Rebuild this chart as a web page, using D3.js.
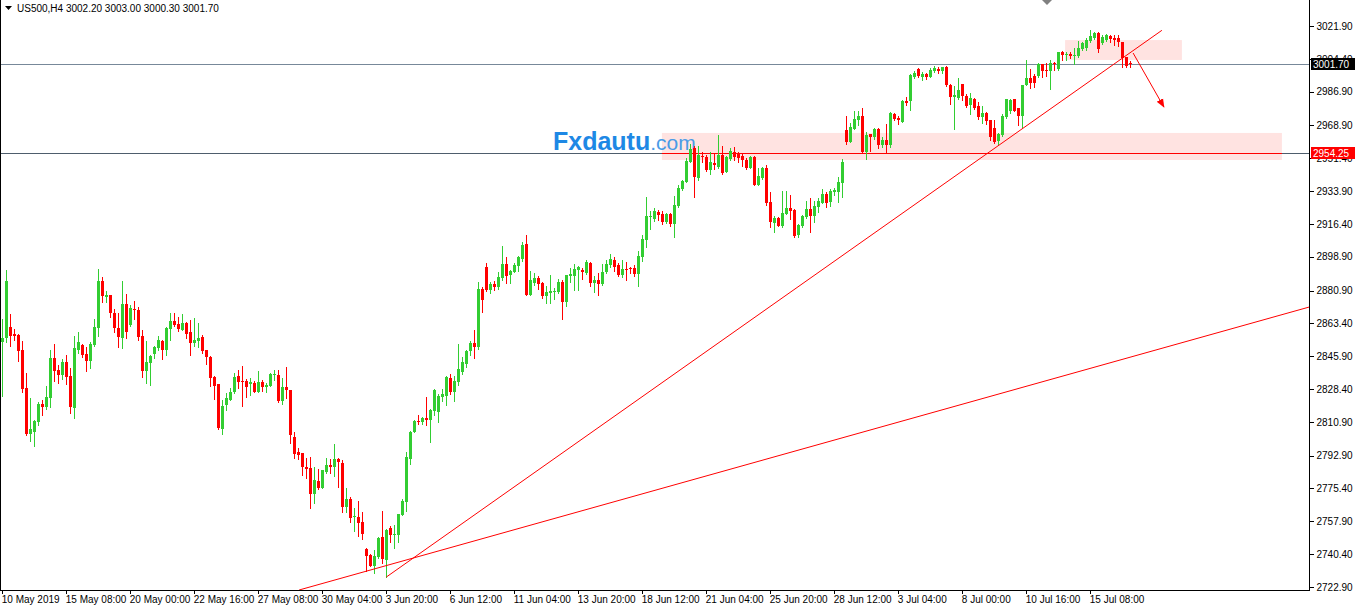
<!DOCTYPE html>
<html>
<head>
<meta charset="utf-8">
<script src="https://cdn.jsdelivr.net/npm/d3@7"></script>
<style>
  body { margin: 0; background: #fff; }
  text { font-family: "Liberation Sans", Arial, sans-serif; }
</style>
</head>
<body>
<svg id="chart"></svg>
<script>
var width = 1355;
var height = 606;
var plotRight = 1309;
var plotBottom = 590;

// H4 candles, [open, high, low, close]
var bars = [
  [2853.4, 2865.7, 2824.7, 2855.6], [2855.6, 2891.8, 2853.4, 2886.0], [2861.5, 2868.4, 2851.3, 2856.7], [2857.8, 2860.4, 2854.5, 2856.7],
  [2857.2, 2857.8, 2843.4, 2848.7], [2849.2, 2854.0, 2826.8, 2828.4], [2828.9, 2836.9, 2803.9, 2804.5], [2804.5, 2823.6, 2800.7, 2807.1],
  [2805.5, 2811.9, 2798.0, 2811.4], [2810.8, 2821.5, 2809.2, 2820.4], [2820.4, 2822.6, 2814.5, 2818.8], [2818.8, 2830.0, 2817.7, 2824.2],
  [2823.6, 2849.2, 2818.8, 2845.0], [2845.0, 2852.4, 2832.7, 2838.0], [2838.5, 2841.2, 2831.6, 2835.9], [2835.9, 2844.4, 2833.7, 2842.8],
  [2842.8, 2846.5, 2831.1, 2834.8], [2835.4, 2839.6, 2815.6, 2818.8], [2818.3, 2856.7, 2813.0, 2850.3], [2849.2, 2858.8, 2847.6, 2853.4],
  [2851.8, 2852.4, 2845.5, 2846.5], [2847.1, 2850.8, 2838.0, 2843.4], [2843.4, 2853.4, 2839.6, 2852.4], [2851.8, 2865.7, 2851.3, 2861.5],
  [2860.9, 2892.4, 2856.7, 2886.0], [2886.0, 2888.1, 2874.8, 2878.0], [2877.5, 2880.7, 2874.8, 2878.5], [2878.5, 2878.5, 2866.8, 2868.9],
  [2868.9, 2871.1, 2858.8, 2860.9], [2860.9, 2868.9, 2850.8, 2856.1], [2855.6, 2886.0, 2850.3, 2873.7], [2873.7, 2879.1, 2855.6, 2858.8],
  [2862.5, 2873.2, 2862.0, 2871.6], [2871.1, 2875.3, 2865.7, 2870.5], [2870.5, 2872.1, 2854.5, 2856.1], [2856.7, 2859.9, 2834.8, 2838.0],
  [2838.0, 2854.0, 2831.6, 2842.8], [2842.3, 2846.5, 2830.5, 2846.0], [2847.1, 2851.3, 2845.0, 2850.8], [2850.3, 2856.7, 2849.2, 2854.5],
  [2854.0, 2854.5, 2844.4, 2849.2], [2849.2, 2861.5, 2846.5, 2860.9], [2860.4, 2868.9, 2854.5, 2864.7], [2864.7, 2868.9, 2862.0, 2862.5],
  [2863.1, 2866.8, 2859.3, 2860.4], [2859.9, 2868.4, 2859.9, 2863.6], [2863.6, 2864.1, 2855.6, 2857.8], [2858.8, 2865.2, 2846.5, 2852.9],
  [2852.9, 2866.3, 2851.3, 2854.5], [2854.0, 2863.6, 2850.8, 2855.6], [2856.1, 2857.2, 2847.6, 2848.7], [2849.2, 2849.2, 2841.7, 2845.5],
  [2845.5, 2846.0, 2830.0, 2834.3], [2834.8, 2835.4, 2823.1, 2830.0], [2831.1, 2831.1, 2807.1, 2807.6], [2807.1, 2822.6, 2804.5, 2819.3],
  [2819.9, 2826.3, 2817.2, 2823.6], [2822.6, 2828.9, 2822.6, 2826.8], [2826.8, 2836.9, 2826.3, 2834.8], [2835.4, 2838.5, 2828.9, 2832.1],
  [2832.7, 2840.7, 2819.3, 2832.1], [2832.7, 2833.7, 2824.2, 2829.5], [2831.1, 2834.3, 2825.2, 2832.1], [2831.6, 2832.7, 2826.8, 2826.8],
  [2826.8, 2838.0, 2826.8, 2832.1], [2832.1, 2833.2, 2827.3, 2829.5], [2829.5, 2831.6, 2826.8, 2830.5], [2830.0, 2836.9, 2830.0, 2836.4],
  [2835.9, 2838.5, 2833.2, 2836.4], [2835.9, 2838.5, 2821.5, 2822.0], [2822.0, 2834.3, 2820.4, 2829.5], [2829.5, 2840.1, 2823.6, 2827.9],
  [2827.9, 2827.9, 2799.6, 2803.9], [2802.8, 2805.5, 2791.6, 2793.8], [2794.8, 2797.0, 2791.1, 2793.2], [2794.3, 2794.3, 2782.6, 2786.8],
  [2786.8, 2791.6, 2780.9, 2785.8], [2786.3, 2792.2, 2765.0, 2772.5], [2772.5, 2786.8, 2767.7, 2779.9], [2779.4, 2785.8, 2775.1, 2775.6],
  [2775.6, 2785.2, 2775.6, 2785.2], [2784.2, 2791.6, 2783.7, 2787.9], [2787.9, 2791.1, 2783.7, 2786.8], [2786.8, 2799.1, 2782.0, 2791.1],
  [2791.1, 2791.6, 2776.2, 2789.5], [2789.0, 2790.6, 2762.9, 2765.5], [2765.5, 2775.6, 2762.9, 2769.8], [2769.8, 2770.9, 2757.5, 2759.7],
  [2760.2, 2765.0, 2752.7, 2760.7], [2760.2, 2768.7, 2750.1, 2757.0], [2757.5, 2762.9, 2748.5, 2751.1], [2743.1, 2743.7, 2731.4, 2739.4],
  [2740.0, 2740.5, 2734.1, 2734.1], [2734.1, 2742.6, 2730.3, 2739.4], [2738.9, 2749.5, 2738.4, 2749.0], [2749.5, 2763.4, 2735.7, 2737.8],
  [2737.3, 2753.8, 2728.2, 2753.3], [2754.3, 2755.4, 2746.9, 2750.6], [2750.6, 2755.9, 2743.7, 2751.1], [2750.6, 2761.8, 2746.9, 2761.8],
  [2761.3, 2769.8, 2761.3, 2768.7], [2768.2, 2794.8, 2763.4, 2792.2], [2791.1, 2806.0, 2788.4, 2805.5], [2805.5, 2811.9, 2805.5, 2811.4],
  [2811.4, 2814.5, 2809.8, 2810.8], [2810.8, 2813.5, 2809.8, 2813.0], [2813.0, 2824.2, 2809.2, 2811.9], [2811.9, 2817.7, 2800.2, 2817.2],
  [2816.7, 2828.4, 2814.5, 2827.9], [2816.2, 2825.8, 2810.8, 2824.7], [2824.2, 2828.4, 2822.0, 2825.8], [2824.7, 2835.4, 2819.9, 2834.8],
  [2834.3, 2836.4, 2825.8, 2826.8], [2826.8, 2835.4, 2822.0, 2832.7], [2832.1, 2852.4, 2830.5, 2839.1], [2837.5, 2845.5, 2836.4, 2842.8],
  [2841.7, 2849.2, 2840.1, 2848.7], [2848.7, 2854.0, 2846.5, 2852.9], [2852.9, 2859.9, 2845.0, 2850.8], [2850.8, 2885.5, 2849.7, 2881.7],
  [2881.7, 2882.8, 2869.5, 2875.9], [2893.4, 2895.6, 2880.7, 2881.2], [2881.2, 2885.5, 2879.6, 2884.4], [2884.4, 2886.0, 2881.2, 2882.8],
  [2882.8, 2890.8, 2881.7, 2888.1], [2887.6, 2904.6, 2886.5, 2895.0], [2895.0, 2898.8, 2884.9, 2888.6], [2889.2, 2891.8, 2884.9, 2891.3],
  [2890.8, 2895.6, 2890.8, 2894.5], [2894.0, 2899.3, 2891.3, 2898.8], [2897.7, 2906.8, 2896.6, 2905.2], [2905.7, 2910.5, 2878.5, 2878.5],
  [2878.5, 2891.3, 2878.5, 2886.5], [2884.9, 2890.2, 2883.9, 2887.6], [2887.6, 2888.6, 2881.7, 2884.4], [2884.9, 2885.5, 2876.9, 2878.0],
  [2878.0, 2883.3, 2874.2, 2880.2], [2879.6, 2889.2, 2874.2, 2880.7], [2880.2, 2882.3, 2876.4, 2880.7], [2880.2, 2887.0, 2879.6, 2885.5],
  [2885.5, 2886.5, 2865.7, 2874.8], [2874.8, 2889.2, 2872.7, 2889.2], [2888.6, 2892.9, 2885.5, 2889.7], [2888.6, 2895.0, 2881.2, 2892.4],
  [2891.8, 2894.0, 2881.2, 2893.4], [2891.8, 2892.9, 2887.0, 2890.8], [2890.2, 2897.2, 2889.7, 2896.1], [2895.6, 2896.1, 2883.3, 2884.9],
  [2884.9, 2888.6, 2880.2, 2886.5], [2886.5, 2890.2, 2878.5, 2884.4], [2884.4, 2895.0, 2883.9, 2890.8], [2890.8, 2897.2, 2890.2, 2895.0],
  [2894.5, 2900.4, 2893.4, 2897.7], [2897.2, 2898.8, 2891.3, 2893.4], [2894.5, 2895.6, 2888.6, 2889.2], [2889.2, 2897.2, 2888.1, 2892.4],
  [2892.4, 2896.1, 2886.5, 2891.8], [2892.9, 2893.4, 2890.2, 2892.4], [2892.9, 2894.5, 2888.6, 2889.7], [2889.7, 2902.0, 2883.3, 2899.3],
  [2898.8, 2910.5, 2896.6, 2908.4], [2907.8, 2930.8, 2904.1, 2920.6], [2920.1, 2923.3, 2913.7, 2920.6], [2919.0, 2924.9, 2918.0, 2923.3],
  [2922.8, 2923.8, 2918.5, 2921.2], [2921.7, 2923.3, 2916.4, 2917.4], [2917.4, 2922.2, 2916.9, 2921.7], [2921.7, 2922.2, 2915.3, 2916.4],
  [2916.4, 2931.3, 2909.4, 2926.5], [2926.0, 2937.2, 2925.4, 2935.6], [2935.0, 2939.8, 2934.5, 2939.3], [2938.8, 2951.5, 2938.8, 2949.9],
  [2949.4, 2959.0, 2949.4, 2956.3], [2956.9, 2957.9, 2930.8, 2941.4], [2940.9, 2957.9, 2939.8, 2953.1], [2952.6, 2954.7, 2949.4, 2952.1],
  [2952.1, 2953.1, 2944.6, 2945.1], [2945.1, 2954.7, 2943.0, 2949.4], [2948.9, 2954.2, 2945.7, 2947.8], [2946.7, 2963.8, 2946.2, 2953.1],
  [2953.1, 2957.9, 2943.0, 2943.5], [2944.1, 2952.6, 2944.1, 2952.1], [2951.0, 2956.9, 2950.5, 2955.3], [2954.7, 2957.4, 2950.5, 2952.1],
  [2953.7, 2954.7, 2949.4, 2951.5], [2952.6, 2954.2, 2947.3, 2950.5], [2950.5, 2951.5, 2945.7, 2946.2], [2946.2, 2952.6, 2946.2, 2952.1],
  [2952.1, 2952.6, 2937.2, 2937.2], [2937.2, 2946.2, 2937.2, 2942.0], [2940.9, 2946.7, 2940.4, 2946.2], [2946.2, 2947.8, 2926.5, 2927.6],
  [2928.1, 2933.4, 2914.8, 2917.4], [2916.9, 2920.6, 2912.1, 2919.6], [2919.6, 2920.1, 2915.3, 2915.3], [2915.3, 2933.9, 2914.8, 2922.2],
  [2921.7, 2933.9, 2921.7, 2924.9], [2924.9, 2931.8, 2919.0, 2923.3], [2923.8, 2924.4, 2909.4, 2910.0], [2910.5, 2916.4, 2909.4, 2915.8],
  [2915.3, 2921.2, 2914.8, 2920.6], [2920.1, 2928.6, 2919.6, 2924.4], [2924.4, 2930.2, 2912.1, 2920.6], [2920.6, 2928.6, 2917.4, 2926.0],
  [2925.4, 2930.2, 2922.8, 2928.6], [2927.6, 2935.0, 2927.6, 2932.4], [2932.4, 2933.4, 2925.4, 2927.6], [2928.1, 2935.0, 2926.0, 2933.9],
  [2933.4, 2935.6, 2931.8, 2934.5], [2933.4, 2941.4, 2928.1, 2938.8], [2938.2, 2951.0, 2930.8, 2949.4], [2966.5, 2973.9, 2959.0, 2960.1],
  [2960.1, 2970.2, 2960.1, 2968.1], [2967.0, 2976.6, 2967.0, 2972.3], [2971.8, 2976.6, 2969.1, 2973.9], [2973.9, 2978.2, 2954.7, 2954.7],
  [2954.7, 2965.4, 2951.0, 2963.8], [2964.3, 2964.3, 2955.3, 2962.7], [2962.7, 2967.5, 2961.7, 2967.0], [2967.0, 2967.5, 2956.9, 2958.5],
  [2958.5, 2962.7, 2957.4, 2961.1], [2961.1, 2969.7, 2954.7, 2958.5], [2958.5, 2976.1, 2957.4, 2975.5], [2975.0, 2975.5, 2971.8, 2972.3],
  [2972.9, 2973.9, 2969.7, 2971.8], [2970.7, 2982.5, 2970.7, 2981.9], [2981.9, 2984.1, 2979.8, 2980.9], [2981.9, 2996.3, 2977.1, 2995.8],
  [2994.7, 2997.9, 2994.2, 2996.8], [2999.0, 2999.5, 2994.7, 2995.2], [2994.7, 2997.4, 2993.1, 2996.3], [2996.3, 2996.8, 2993.6, 2994.7],
  [2994.7, 2999.5, 2994.7, 2998.5], [2997.9, 3000.6, 2997.4, 2999.5], [2999.0, 3000.1, 2996.8, 2997.9], [2997.9, 3000.1, 2996.8, 3000.1],
  [3000.1, 3000.6, 2989.9, 2990.5], [2990.5, 2991.0, 2980.3, 2984.1], [2984.1, 2989.9, 2967.0, 2985.1], [2983.5, 2994.2, 2983.0, 2987.8],
  [2991.0, 2991.0, 2982.5, 2984.6], [2984.6, 2985.7, 2978.7, 2979.3], [2979.8, 2986.2, 2975.0, 2983.5], [2983.0, 2983.5, 2977.7, 2978.2],
  [2979.3, 2981.4, 2972.3, 2973.4], [2973.4, 2979.3, 2970.2, 2975.5], [2975.5, 2976.1, 2969.7, 2971.3], [2971.8, 2971.8, 2961.1, 2962.7],
  [2967.5, 2971.8, 2959.5, 2960.1], [2960.6, 2964.9, 2959.0, 2964.3], [2963.8, 2975.0, 2963.3, 2973.9], [2973.4, 2983.0, 2972.9, 2983.0],
  [2976.6, 2983.0, 2975.5, 2982.5], [2983.0, 2983.0, 2976.6, 2976.6], [2978.2, 2978.2, 2969.1, 2973.9], [2973.9, 2990.5, 2968.1, 2990.5],
  [2990.5, 3003.8, 2990.5, 2994.2], [2994.2, 2999.0, 2988.9, 2991.5], [2995.2, 2996.3, 2989.4, 2991.5], [2995.2, 3002.2, 2994.7, 3001.7],
  [3001.7, 3001.7, 2994.7, 2997.9], [2998.5, 3002.2, 2995.2, 2997.9], [2997.9, 3003.8, 2988.3, 3002.2], [3002.2, 3002.7, 2998.5, 3001.7],
  [2999.0, 3008.0, 2998.5, 3008.0], [3008.0, 3008.6, 3003.8, 3006.4], [3006.4, 3008.0, 3003.8, 3007.0], [3007.0, 3008.0, 3004.8, 3005.9],
  [3005.9, 3010.2, 3001.7, 3006.4], [3005.9, 3013.9, 3005.4, 3010.2], [3009.6, 3013.4, 3009.1, 3012.8], [3010.2, 3015.5, 3009.1, 3014.4],
  [3013.9, 3019.8, 3013.4, 3016.6], [3015.5, 3018.7, 3015.0, 3018.2], [3018.2, 3018.7, 3008.0, 3009.6], [3012.8, 3017.1, 3012.3, 3016.0],
  [3014.4, 3017.6, 3013.9, 3017.1], [3016.6, 3017.1, 3013.4, 3015.0], [3015.5, 3017.1, 3011.8, 3014.4], [3015.5, 3017.1, 3011.2, 3013.4],
  [3013.4, 3013.4, 3000.1, 3004.8], [3005.4, 3005.4, 3000.1, 3000.6], [3002.2, 3003.0, 3000.3, 3001.7]
];

// time axis: bar index and label
var timeIdx = [0, 16, 32, 48, 64, 80, 96, 112, 128, 144, 160, 176, 192, 208, 224, 240, 256, 272];
var timeLabels = ['10 May 2019', '15 May 08:00', '20 May 00:00', '22 May 16:00', '27 May 08:00', '30 May 04:00',
  '3 Jun 20:00', '6 Jun 12:00', '11 Jun 04:00', '13 Jun 20:00', '18 Jun 12:00', '21 Jun 04:00',
  '25 Jun 20:00', '28 Jun 12:00', '3 Jul 04:00', '8 Jul 00:00', '10 Jul 16:00', '15 Jul 08:00'];

// price axis labels
var priceTicks = [3021.90, 3004.40, 2986.90, 2968.90, 2951.40, 2933.90, 2916.40, 2898.90, 2880.90,
  2863.40, 2845.90, 2828.40, 2810.90, 2792.90, 2775.40, 2757.90, 2740.40, 2722.90];

// drawn objects
var levels = [{ price: 3001.70, label: '3001.70' }, { price: 2954.25, label: '2954.25' }];
var zones = [{ i0: 164.9, i1: 319.9, p0: 2964.9, p1: 2950.5 }, { i0: 265.7, i1: 294.9, p0: 3014.4, p1: 3003.8 }];
var trendLines = [{ i0: 96, p0: 2728.2, i1: 289.9, p1: 3019.6 }, { i0: 74.2, p0: 2721.3, i1: 326.7, p1: 2872.1 }];
var arrowLine = { i0: 282.7, p0: 3007.5, i1: 290.4, p1: 2978.7 };
var header = 'US500,H4  3002.20 3003.00 3000.30 3001.70';

var x = d3.scaleLinear().domain([0, 100]).range([2.3, 402.3]);
var y = d3.scaleLinear().domain([2722.9, 3021.9]).range([587, 26]);

var svg = d3.select('#chart').attr('width', width).attr('height', height);
svg.append('rect').attr('width', width).attr('height', height).attr('fill', '#fff');

svg.append('defs').append('clipPath').attr('id', 'plot')
  .append('rect').attr('x', 1).attr('y', 0).attr('width', plotRight - 1).attr('height', plotBottom);
svg.select('defs').append('marker')
  .attr('id', 'head').attr('viewBox', '0 0 10 10').attr('refX', 9).attr('refY', 5)
  .attr('markerWidth', 9).attr('markerHeight', 9).attr('orient', 'auto').attr('markerUnits', 'userSpaceOnUse')
  .append('path').attr('d', 'M0,1L10,5L0,9Z').attr('fill', '#ff0000');

var plot = svg.append('g').attr('clip-path', 'url(#plot)');

// zones
plot.selectAll('rect.zone').data(zones).enter().append('rect')
  .attr('class', 'zone')
  .attr('x', function(d) { return x(d.i0); })
  .attr('y', function(d) { return y(d.p0); })
  .attr('width', function(d) { return x(d.i1) - x(d.i0); })
  .attr('height', function(d) { return y(d.p1) - y(d.p0); })
  .attr('fill', '#ffe3e1');

// level lines
plot.append('line')
  .attr('x1', 0).attr('x2', plotRight)
  .attr('y1', Math.round(y(levels[0].price)) + 0.5).attr('y2', Math.round(y(levels[0].price)) + 0.5)
  .attr('stroke', '#778899');
plot.append('line')
  .attr('x1', 0).attr('x2', plotRight)
  .attr('y1', Math.round(y(levels[1].price)) + 0.5).attr('y2', Math.round(y(levels[1].price)) + 0.5)
  .attr('stroke', '#4e5d6c');
plot.append('line')
  .attr('x1', x(zones[0].i0)).attr('x2', x(zones[0].i1))
  .attr('y1', Math.round(y(levels[1].price)) + 0.5).attr('y2', Math.round(y(levels[1].price)) + 0.5)
  .attr('stroke', '#ff0000');

// watermark
var mark = plot.append('text').attr('x', 553).attr('y', 150);
mark.append('tspan').text('Fxdautu')
  .attr('font-size', 25).attr('font-weight', 'bold').attr('fill', '#1e88e5');
mark.append('tspan').text('.com')
  .attr('font-size', 21).attr('fill', '#4a9be6');

// candles
var candle = plot.selectAll('g.candle').data(bars).enter().append('g')
  .attr('class', 'candle')
  .attr('shape-rendering', 'crispEdges')
  .attr('fill', function(d) { return d[3] >= d[0] ? '#32cd32' : '#ff0000'; })
  .attr('stroke', function(d) { return d[3] >= d[0] ? '#32cd32' : '#ff0000'; });

candle.append('line')
  .attr('x1', function(d, i) { return Math.round(x(i)) + 0.5; })
  .attr('x2', function(d, i) { return Math.round(x(i)) + 0.5; })
  .attr('y1', function(d) { return Math.round(y(d[1])); })
  .attr('y2', function(d) { return Math.round(y(d[2])) + 1; });

candle.append('rect')
  .attr('stroke', 'none')
  .attr('x', function(d, i) { return Math.round(x(i)) - 1; })
  .attr('width', 3)
  .attr('y', function(d) { return Math.round(y(Math.max(d[0], d[3]))); })
  .attr('height', function(d) {
    return Math.max(1, Math.round(y(Math.min(d[0], d[3]))) - Math.round(y(Math.max(d[0], d[3]))));
  });

// trend lines
plot.selectAll('line.trend').data(trendLines).enter().append('line')
  .attr('class', 'trend')
  .attr('x1', function(d) { return x(d.i0); })
  .attr('y1', function(d) { return y(d.p0); })
  .attr('x2', function(d) { return x(d.i1); })
  .attr('y2', function(d) { return y(d.p1); })
  .attr('stroke', '#ff0000').attr('stroke-width', 1);

plot.append('line')
  .attr('x1', x(arrowLine.i0)).attr('y1', y(arrowLine.p0))
  .attr('x2', x(arrowLine.i1)).attr('y2', y(arrowLine.p1))
  .attr('stroke', '#ff0000').attr('stroke-width', 1)
  .attr('marker-end', 'url(#head)');

// frame
svg.append('g').attr('shape-rendering', 'crispEdges').attr('stroke', '#000').call(function(g) {
  g.append('line').attr('x1', 0.5).attr('x2', 0.5).attr('y1', 0).attr('y2', plotBottom);
  g.append('line').attr('x1', plotRight + 0.5).attr('x2', plotRight + 0.5).attr('y1', 0).attr('y2', plotBottom + 1);
  g.append('line').attr('x1', 0).attr('x2', plotRight + 1).attr('y1', plotBottom + 0.5).attr('y2', plotBottom + 0.5);
});

// shift marker
svg.append('path').attr('d', 'M1042,0L1052,0L1047,5Z').attr('fill', '#808080');

// price axis
var yAxis = svg.append('g')
  .attr('transform', 'translate(' + (plotRight + 0.5) + ',0)')
  .call(d3.axisRight(y).tickValues(priceTicks).tickSize(4).tickPadding(3).tickFormat(d3.format('.2f')));
yAxis.select('.domain').remove();
yAxis.selectAll('.tick line').attr('shape-rendering', 'crispEdges').attr('stroke', '#000');
yAxis.selectAll('.tick text').attr('font-size', 10).attr('fill', '#000')
  .attr('font-family', '"Liberation Sans", Arial, sans-serif');

// level tags on price axis (drawn over the tick labels they cover)
var tags = svg.selectAll('g.tag').data(levels).enter().append('g').attr('class', 'tag');
tags.append('rect')
  .attr('x', plotRight + 2).attr('width', 44)
  .attr('y', function(d) { return Math.round(y(d.price)) - 6; }).attr('height', 12)
  .attr('fill', function(d, i) { return i == 0 ? '#000' : '#ff0000'; });
tags.append('text')
  .attr('x', plotRight + 4).attr('y', function(d) { return Math.round(y(d.price)) + 4; })
  .attr('font-size', 10).attr('fill', '#fff')
  .text(function(d) { return d.label; });

// time axis
var xAxis = svg.append('g')
  .attr('transform', 'translate(0,' + (plotBottom + 0.5) + ')')
  .call(d3.axisBottom(x).tickValues(timeIdx).tickSize(3).tickPadding(2)
    .tickFormat(function(d, i) { return timeLabels[i]; }));
xAxis.select('.domain').remove();
xAxis.selectAll('.tick line').attr('shape-rendering', 'crispEdges').attr('stroke', '#000');
xAxis.selectAll('.tick text').attr('font-size', 10).attr('fill', '#000')
  .attr('text-anchor', 'start').attr('dx', -1)
  .attr('font-family', '"Liberation Sans", Arial, sans-serif');

// header
svg.append('path').attr('d', 'M5,6L12,6L8.5,10Z').attr('fill', '#000');
svg.append('text').attr('x', 17).attr('y', 12).attr('font-size', 10).attr('fill', '#000').text(header);
</script>
</body>
</html>
